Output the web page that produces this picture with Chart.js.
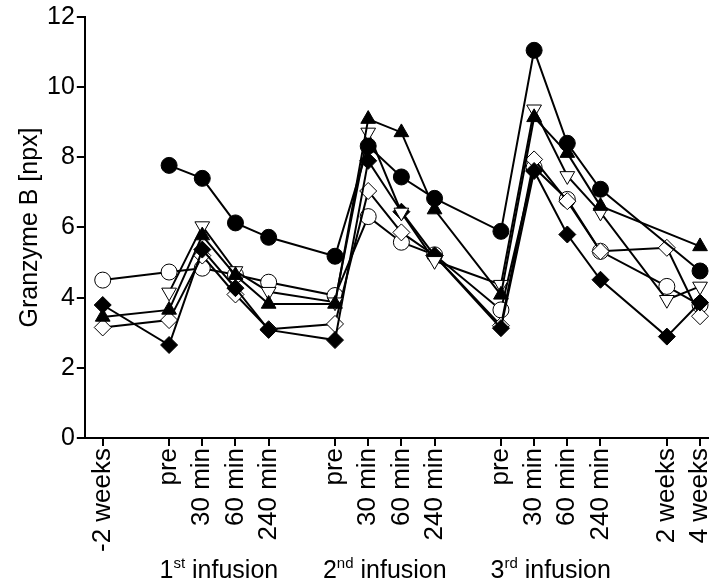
<!DOCTYPE html>
<html>
<head>
<meta charset="utf-8">
<script src="https://cdn.jsdelivr.net/npm/chart.js@4"></script>
<style>
  body { margin: 0; background: #fff; }
  canvas { display: block; }
</style>
</head>
<body>
<canvas id="chart" width="709" height="585"></canvas>
<script>
// x positions of the sampling points (gaps between infusions)
var xPositions = [0, 2, 3, 4, 5, 7, 8, 9, 10, 12, 13, 14, 15, 17, 18];
var tickLabels = ['-2 weeks', 'pre', '30 min', '60 min', '240 min', 'pre', '30 min', '60 min', '240 min',
                  'pre', '30 min', '60 min', '240 min', '2 weeks', '4 weeks'];
var groupLabels = [['1', 'st', ' infusion'], ['2', 'nd', ' infusion'], ['3', 'rd', ' infusion']];
var groupCenters = [3.5, 8.5, 13.5];

// one array per patient (marker)
var filledCircle   = [null, 7.77, 7.40, 6.13, 5.72, 5.18, 8.32, 7.44, 6.83, 5.89, 11.05, 8.40, 7.09, null, 4.76];
var filledTriangle = [3.45, 3.65, 5.77, 4.64, 3.82, 3.82, 9.09, 8.71, 6.51, 4.08, 9.14, 8.12, 6.61, null, 5.46];
var openTriangle   = [null, 4.15, 6.04, 4.76, 4.17, 3.87, 8.71, 6.43, 5.05, 4.37, 9.37, 7.47, 6.43, 3.94, 4.32];
var filledDiamond  = [3.79, 2.65, 5.37, 4.27, 3.08, 2.79, 7.90, 6.45, 5.20, 3.13, 7.61, 5.80, 4.51, 2.89, 3.86];
var openDiamond    = [3.15, 3.36, 5.20, 4.09, 3.10, 3.25, 7.04, 5.86, 5.20, 3.20, 7.94, 6.75, 5.32, 5.42, 3.47];
var openCircle     = [4.50, 4.73, 4.84, 4.65, 4.44, 4.06, 6.31, 5.58, 5.22, 3.65, 7.71, 6.80, 5.32, 4.32, 3.79];

var FONT = "'Liberation Sans', Arial, sans-serif";

function points(values) {
    return values.map(function (v, i) { return { x: xPositions[i], y: v }; });
}

function series(values, style, filled, radius, rotation) {
    return {
        data: points(values),
        borderColor: 'black',
        borderWidth: 2,
        pointStyle: style,
        pointRadius: radius,
        pointRotation: rotation || 0,
        pointBackgroundColor: filled ? 'black' : 'white',
        pointBorderColor: 'black',
        pointBorderWidth: 1,
        spanGaps: true,
        clip: false,
        tension: 0
    };
}

// superscript group labels under the tick labels
var groupLabelPlugin = {
    id: 'groupLabels',
    afterDraw: function (chart) {
        var ctx = chart.ctx;
        var xs = chart.scales.x;
        var big = '25px ' + FONT, small = '15px ' + FONT;
        ctx.save();
        ctx.fillStyle = 'black';
        ctx.textBaseline = 'alphabetic';
        ctx.textAlign = 'left';
        groupLabels.forEach(function (parts, i) {
            ctx.font = big;
            var w0 = ctx.measureText(parts[0]).width;
            var w2 = ctx.measureText(parts[2]).width;
            ctx.font = small;
            var w1 = ctx.measureText(parts[1]).width;
            var x = xs.getPixelForValue(groupCenters[i]) - (w0 + w1 + w2) / 2;
            var y = 578;
            ctx.font = big;
            ctx.fillText(parts[0], x, y);
            ctx.font = small;
            ctx.fillText(parts[1], x + w0, y - 10);
            ctx.font = big;
            ctx.fillText(parts[2], x + w0 + w1, y);
        });
        ctx.restore();
    }
};

var ctx = document.getElementById('chart');
var myChart = new Chart(ctx, {
    type: 'line',
    data: {
        datasets: [
            series(filledCircle, 'circle', true, 8),
            series(filledTriangle, 'triangle', true, 8.5),
            series(openTriangle, 'triangle', false, 8.5, 180),
            series(filledDiamond, 'rectRot', true, 8.5),
            series(openDiamond, 'rectRot', false, 8.5),
            series(openCircle, 'circle', false, 8)
        ]
    },
    options: {
        responsive: false,
        animation: false,
        layout: { autoPadding: false, padding: { left: 15, top: 4, right: 0, bottom: 31 } },
        plugins: {
            legend: { display: false },
            tooltip: { enabled: false }
        },
        scales: {
            x: {
                type: 'linear',
                min: -0.54,
                max: 18.27,
                afterBuildTicks: function (scale) {
                    scale.ticks = xPositions.map(function (v) { return { value: v }; });
                },
                afterFit: function (scale) {
                    scale.paddingRight = 0;
                    scale.paddingLeft = 0;
                },
                ticks: {
                    autoSkip: false,
                    minRotation: 90,
                    maxRotation: 90,
                    padding: 2,
                    color: 'black',
                    font: { family: FONT, size: 26 },
                    callback: function (value, index) { return tickLabels[index]; }
                },
                grid: { drawOnChartArea: false, drawTicks: true, tickLength: 8, color: 'black', lineWidth: 2 },
                border: { display: true, color: 'black', width: 2 }
            },
            y: {
                min: 0,
                max: 12,
                ticks: {
                    stepSize: 2,
                    padding: 2,
                    color: 'black',
                    font: { family: FONT, size: 25 }
                },
                title: {
                    display: true,
                    text: 'Granzyme B [npx]',
                    color: 'black',
                    font: { family: FONT, size: 25 },
                    padding: { top: 0, bottom: 0 }
                },
                grid: { drawOnChartArea: false, drawTicks: true, tickLength: 8, color: 'black', lineWidth: 2 },
                border: { display: true, color: 'black', width: 2 }
            }
        }
    },
    plugins: [groupLabelPlugin]
});
</script>
</body>
</html>
